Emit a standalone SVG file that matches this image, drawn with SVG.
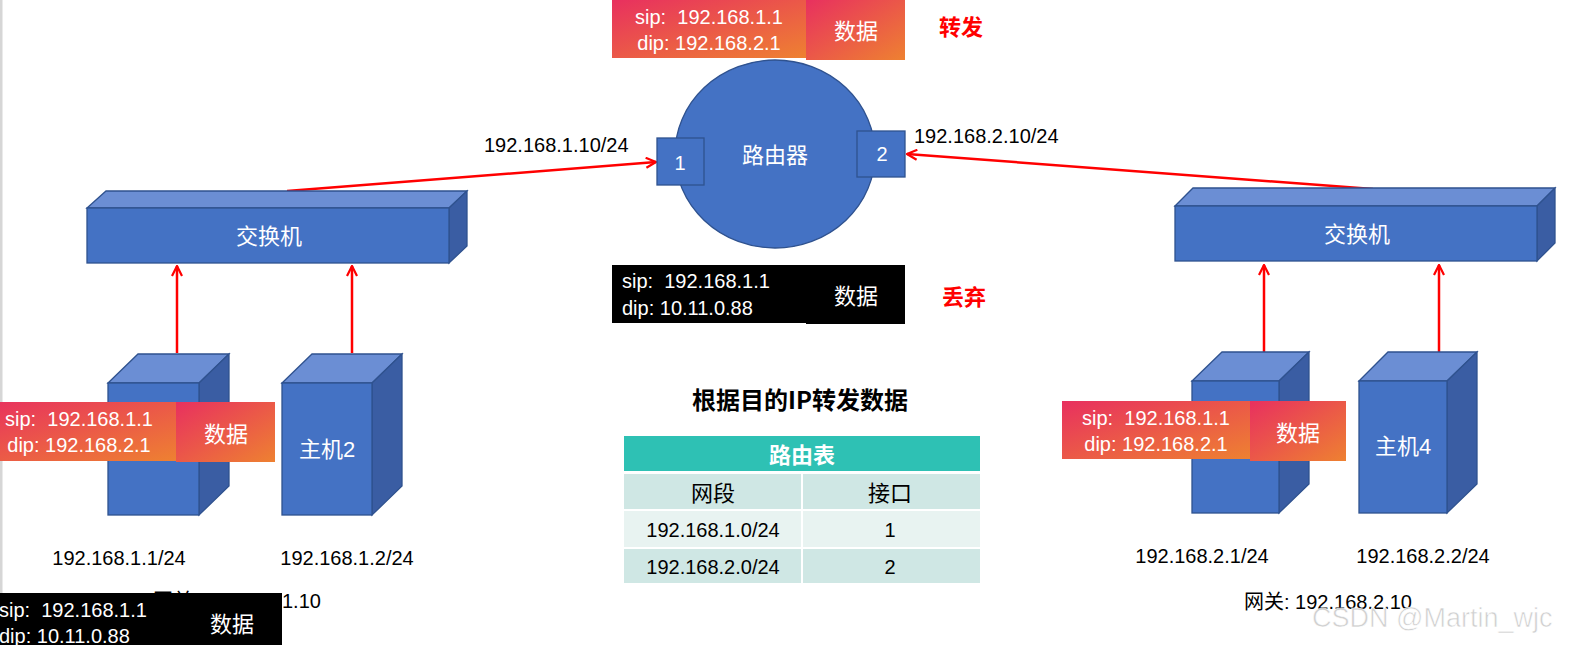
<svg xmlns="http://www.w3.org/2000/svg" width="1579" height="645" viewBox="0 0 1579 645">
<defs>
<linearGradient id="pk" x1="0" y1="0" x2="1" y2="1">
<stop offset="0" stop-color="#E8305F"/>
<stop offset="1" stop-color="#EE8131"/>
</linearGradient>
<marker id="ah" viewBox="0 0 12 12" refX="11" refY="6" markerWidth="12" markerHeight="12" markerUnits="userSpaceOnUse" orient="auto">
<path d="M1,1 L11,6 L1,11" fill="none" stroke="#FF0000" stroke-width="2.2"/>
</marker>
</defs>
<style>
.front{fill:#4472C4;stroke:#2F528F;stroke-width:1.3}
.top{fill:#6B8ED4;stroke:#2F528F;stroke-width:1.3}
.side{fill:#3A5DA3;stroke:#2F528F;stroke-width:1.3}
.lat{font-family:"Liberation Sans","Noto Sans CJK SC",sans-serif;}
.cjk{font-family:"Noto Sans CJK SC","Liberation Sans",sans-serif;}
.w{fill:#FFFFFF}
.k{fill:#000000}
.conn{stroke:#FF0000;stroke-width:2.5;fill:none;marker-end:url(#ah)}
.mid{text-anchor:middle}
.c{dominant-baseline:central}
</style>
<rect x="0" y="0" width="1579" height="645" fill="#FFFFFF"/>
<rect x="0" y="0" width="2.5" height="645" fill="#D6D6D6"/>

<g id="connectors">
<line class="conn" x1="287" y1="191" x2="656" y2="162"/>
<line class="conn" x1="1373" y1="189" x2="907" y2="154"/>
<line class="conn" x1="177" y1="353" x2="177" y2="266"/>
<line class="conn" x1="352" y1="353" x2="352" y2="266"/>
<line class="conn" x1="1264" y1="352" x2="1264" y2="265"/>
<line class="conn" x1="1439" y1="352" x2="1439" y2="265"/>
</g>

<g id="router">
<ellipse cx="775" cy="154" rx="100" ry="94" fill="#4472C4" stroke="#2F528F" stroke-width="1.3"/>
<text class="cjk w mid c" x="775" y="153" font-size="22">路由器</text>
<rect x="657" y="138" width="47" height="47" class="front"/>
<text class="lat w mid" x="680" y="170" font-size="20">1</text>
<rect x="857" y="131" width="48" height="46" class="front"/>
<text class="lat w mid" x="882" y="161" font-size="20">2</text>
</g>

<g id="edge-labels">
<text class="lat k" x="484" y="152" font-size="20">192.168.1.10/24</text>
<text class="lat k" x="914" y="143" font-size="20">192.168.2.10/24</text>
</g>

<g id="switch-left">
<polygon class="top" points="87,208 106,191 467,191 449,208"/>
<polygon class="side" points="449,208 467,191 467,246 449,263"/>
<rect class="front" x="87" y="208" width="362" height="55"/>
<text class="cjk w mid c" x="269" y="234" font-size="22">交换机</text>
</g>

<g id="switch-right">
<polygon class="top" points="1175,206 1193,188 1555,188 1537,206"/>
<polygon class="side" points="1537,206 1555,188 1555,243 1537,261"/>
<rect class="front" x="1175" y="206" width="362" height="55"/>
<text class="cjk w mid c" x="1357" y="232" font-size="22">交换机</text>
</g>

<g id="host1">
<polygon class="top" points="108,383 138,354 229,354 199,383"/>
<polygon class="side" points="199,383 229,354 229,486 199,515"/>
<rect class="front" x="108" y="383" width="91" height="132"/>
</g>

<g id="host2">
<polygon class="top" points="282,383 312,354 402,354 372,383"/>
<polygon class="side" points="372,383 402,354 402,486 372,515"/>
<rect class="front" x="282" y="383" width="90" height="132"/>
<text class="lat w mid c" x="327" y="449" font-size="22">主机2</text>
</g>

<g id="host3">
<polygon class="top" points="1192,381 1222,352 1309,352 1279,381"/>
<polygon class="side" points="1279,381 1309,352 1309,484 1279,513"/>
<rect class="front" x="1192" y="381" width="87" height="132"/>
</g>

<g id="host4">
<polygon class="top" points="1359,381 1388,352 1477,352 1447,381"/>
<polygon class="side" points="1447,381 1477,352 1477,484 1447,513"/>
<rect class="front" x="1359" y="381" width="88" height="132"/>
<text class="lat w mid c" x="1403" y="446" font-size="22">主机4</text>
</g>

<g id="host-labels">
<text class="lat k mid" x="119" y="565" font-size="20">192.168.1.1/24</text>
<text class="lat k mid" x="347" y="565" font-size="20">192.168.1.2/24</text>
<text class="lat k mid" x="1202" y="563" font-size="20">192.168.2.1/24</text>
<text class="lat k mid" x="1423" y="563" font-size="20">192.168.2.2/24</text>
<text class="lat k" x="153" y="608" font-size="20">网关: 192.168.1.10</text>
<text class="lat k" x="1244" y="609" font-size="20">网关: 192.168.2.10</text>
</g>

<g id="packet-top">
<rect x="612" y="0" width="194" height="58" fill="url(#pk)"/>
<rect x="806" y="0" width="99" height="60" fill="url(#pk)"/>
<text class="lat w mid" x="709" y="24" font-size="20" xml:space="preserve">sip:  192.168.1.1</text>
<text class="lat w mid" x="709" y="50" font-size="20">dip: 192.168.2.1</text>
<text class="cjk w mid c" x="856" y="29" font-size="22">数据</text>
</g>

<g id="label-forward">
<text class="cjk mid c" x="961" y="25" font-size="22" font-weight="bold" fill="#FF0000">转发</text>
</g>

<g id="packet-drop">
<rect x="612" y="265" width="194" height="58" fill="#000000"/>
<rect x="806" y="265" width="99" height="59" fill="#000000"/>
<text class="lat w" x="622" y="288" font-size="20" xml:space="preserve">sip:  192.168.1.1</text>
<text class="lat w" x="622" y="315" font-size="20">dip: 10.11.0.88</text>
<text class="cjk w mid c" x="856" y="294" font-size="22">数据</text>
</g>

<g id="label-drop">
<text class="cjk mid c" x="964" y="295" font-size="22" font-weight="bold" fill="#FF0000">丢弃</text>
</g>

<g id="packet-left">
<rect x="-18" y="402" width="194" height="59" fill="url(#pk)"/>
<rect x="176" y="402" width="99" height="60" fill="url(#pk)"/>
<text class="lat w mid" x="79" y="426" font-size="20" xml:space="preserve">sip:  192.168.1.1</text>
<text class="lat w mid" x="79" y="452" font-size="20">dip: 192.168.2.1</text>
<text class="cjk w mid c" x="226" y="432" font-size="22">数据</text>
</g>

<g id="packet-right">
<rect x="1062" y="401" width="188" height="58" fill="url(#pk)"/>
<rect x="1250" y="401" width="96" height="60" fill="url(#pk)"/>
<text class="lat w mid" x="1156" y="425" font-size="20" xml:space="preserve">sip:  192.168.1.1</text>
<text class="lat w mid" x="1156" y="451" font-size="20">dip: 192.168.2.1</text>
<text class="cjk w mid c" x="1298" y="431" font-size="22">数据</text>
</g>

<g id="packet-bottom-left">
<rect x="-12" y="593" width="294" height="60" fill="#000000"/>
<text class="lat w" x="-1" y="617" font-size="20" xml:space="preserve">sip:  192.168.1.1</text>
<text class="lat w" x="-1" y="643" font-size="20">dip: 10.11.0.88</text>
<text class="cjk w mid c" x="232" y="622" font-size="22">数据</text>
</g>

<g id="routing-table">
<text class="cjk k mid c" x="800" y="398" font-size="24" font-weight="bold">根据目的IP转发数据</text>
<rect x="624" y="436" width="356" height="35" fill="#2EC1B4"/>
<text class="cjk w mid c" x="802" y="453" font-size="22" font-weight="bold">路由表</text>
<rect x="624" y="474" width="356" height="35" fill="#CFE7E4"/>
<rect x="624" y="511" width="356" height="36" fill="#E8F3F1"/>
<rect x="624" y="549" width="356" height="34" fill="#CFE7E4"/>
<line x1="802" y1="474" x2="802" y2="583" stroke="#FFFFFF" stroke-width="2"/>
<text class="cjk k mid c" x="713" y="491" font-size="22">网段</text>
<text class="cjk k mid c" x="890" y="491" font-size="22">接口</text>
<text class="lat k mid" x="713" y="537" font-size="20">192.168.1.0/24</text>
<text class="lat k mid" x="890" y="537" font-size="20">1</text>
<text class="lat k mid" x="713" y="574" font-size="20">192.168.2.0/24</text>
<text class="lat k mid" x="890" y="574" font-size="20">2</text>
</g>

<g id="watermark">
<text class="lat" x="1312" y="627" font-size="27" fill="#C8C8C8" fill-opacity="0.85" stroke="#FFFFFF" stroke-width="0.6">CSDN @Martin_wjc</text>
</g>
</svg>
